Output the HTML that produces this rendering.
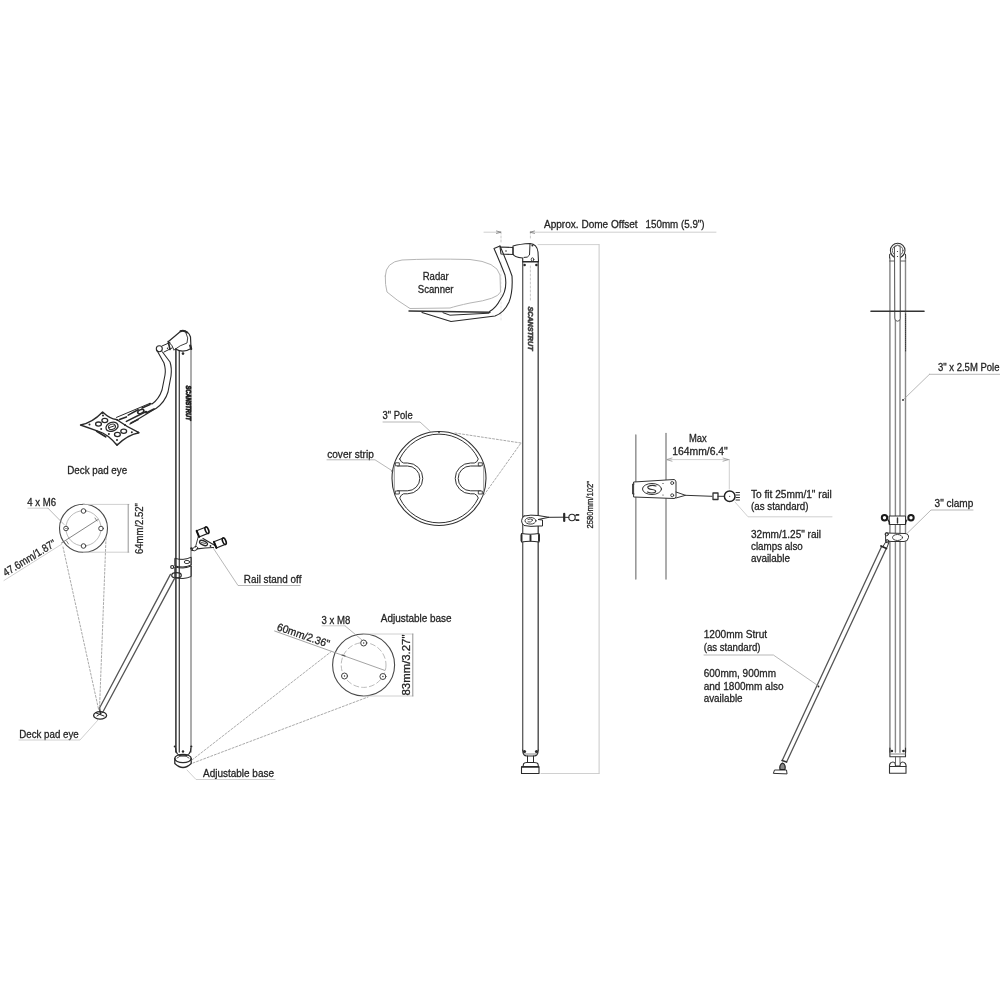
<!DOCTYPE html>
<html><head><meta charset="utf-8"><style>
html,body{margin:0;padding:0;background:#fff;}
svg{display:block;will-change:transform;}
text{font-family:"Liberation Sans",sans-serif;stroke:#222;stroke-width:0.28px;}
</style></head><body>
<svg width="1000" height="1000" viewBox="0 0 1000 1000" stroke-linecap="round" stroke-linejoin="round">
<rect width="1000" height="1000" fill="#fff"/>
<line x1="175.9" y1="349" x2="175.9" y2="752" stroke="#2e2e2e" stroke-width="1.5" />
<line x1="179.3" y1="351" x2="179.3" y2="752" stroke="#444" stroke-width="1.3" />
<line x1="191" y1="348" x2="191" y2="752" stroke="#8a8a8a" stroke-width="1.4" />
<path d="M175.6,748 Q175.6,756 183,756 Q190.9,756 190.9,748" stroke="#2a2a2a" stroke-width="1.1" fill="none" />
<circle cx="174.8" cy="746.5" r="1.1" stroke="#2a2a2a" stroke-width="0" fill="#2a2a2a" />
<circle cx="191.3" cy="746.5" r="1.1" stroke="#2a2a2a" stroke-width="0" fill="#2a2a2a" />
<circle cx="183" cy="751.5" r="1.2" stroke="#2a2a2a" stroke-width="0" fill="#2a2a2a" />
<ellipse cx="183" cy="758.5" rx="8.2" ry="4.2" stroke="#2a2a2a" stroke-width="1.3" fill="none" />
<path d="M174.8,758.5 L174.8,763.5 Q183,771.5 191.2,763.5 L191.2,758.5" stroke="#2a2a2a" stroke-width="1.3" fill="none" />
<path d="M177,758 Q183,753 189,758" stroke="#2a2a2a" stroke-width="0.8" fill="none" />
<path d="M168.5,341.5 L181,331 Q188,329.5 190.5,337 L191,348" stroke="#2a2a2a" stroke-width="1.2" fill="none" />
<path d="M175.6,349 Q183,353.5 191,348.5" stroke="#2a2a2a" stroke-width="1.2" fill="none" />
<path d="M168.5,341.5 Q173,346 173.8,349.5" stroke="#2a2a2a" stroke-width="1.0" fill="none" />
<path d="M174,350 Q180,345 187,343 Q189,338 186,333" stroke="#2a2a2a" stroke-width="0.9" fill="none" />
<path d="M162,346 L170,342.5 M164,352 L172,348" stroke="#2a2a2a" stroke-width="1.0" fill="none" />
<circle cx="159.3" cy="348.8" r="3.0" stroke="#2a2a2a" stroke-width="1.1" fill="none" />
<circle cx="183" cy="353.6" r="1.3" stroke="#2a2a2a" stroke-width="0" fill="#2a2a2a" />
<path d="M180.5,331.2 Q184,329.8 187,332.5" stroke="#2a2a2a" stroke-width="2.0" fill="none" />
<path d="M190.2,345.5 L191.2,349" stroke="#2a2a2a" stroke-width="2.2" fill="none" />
<path d="M168.2,341.5 L170,349.5" stroke="#2a2a2a" stroke-width="1.6" fill="none" />
<circle cx="167.5" cy="348.2" r="0.7" stroke="#2a2a2a" stroke-width="0" fill="#2a2a2a" />
<path d="M157,350.5 L164,363 Q166,370 165,375 L162,390 Q159,399 152,404 L149.8,403.4" stroke="#2a2a2a" stroke-width="1.1" fill="none" />
<path d="M162.5,352 L170,362 Q172,368 171,376 L168,392 Q165,402 156,408.5 L155.2,408.8" stroke="#2a2a2a" stroke-width="1.1" fill="none" />
<path d="M116.5,417.4 L149.8,403.4" stroke="#2a2a2a" stroke-width="1.0" fill="none" />
<path d="M130,424.1 L155.2,408.8" stroke="#2a2a2a" stroke-width="1.2" fill="none" />
<path d="M119.5,419.6 L126.4,416.9 M128.2,415.1 L138.1,409.7 M126.4,421.4 L146.2,411.5 M131,423 L138,419.5 M142,408 L150,404.5 M146,413 L154,409" stroke="#2a2a2a" stroke-width="1.6" fill="none" />
<ellipse cx="140.8" cy="411.5" rx="3.3" ry="1.8" stroke="#2a2a2a" stroke-width="1.6" fill="none" transform="rotate(-25 140.8 411.5)"/>
<path d="M80.5,425 Q92,423 102.6,412 Q110,419 116.5,419.5 Q127,427 139,432.7 Q127,435 117,445.3 Q108,434 98.5,431.3 Q89,428 80.5,425 Z" stroke="#2a2a2a" stroke-width="1.4" fill="#fff" />
<path d="M96.7,431.3 L105.7,436.7" stroke="#2a2a2a" stroke-width="1.8" fill="none" />
<ellipse cx="112" cy="426.8" rx="6.2" ry="4.4" stroke="#2a2a2a" stroke-width="1.3" fill="none" transform="rotate(-20 112 426.8)"/>
<ellipse cx="112" cy="426.8" rx="3.6" ry="2.6" stroke="#2a2a2a" stroke-width="1.0" fill="none" transform="rotate(-20 112 426.8)"/>
<path d="M109.5,427.5 L114.5,425.8" stroke="#2a2a2a" stroke-width="1.0" fill="none" />
<ellipse cx="104.8" cy="420.5" rx="2.9" ry="2.1" stroke="#2a2a2a" stroke-width="1.3" fill="none" />
<ellipse cx="98.5" cy="424.1" rx="2.9" ry="2.1" stroke="#2a2a2a" stroke-width="1.3" fill="none" />
<ellipse cx="123.7" cy="431.3" rx="2.9" ry="2.1" stroke="#2a2a2a" stroke-width="1.3" fill="none" />
<ellipse cx="117.4" cy="434.5" rx="2.9" ry="2.1" stroke="#2a2a2a" stroke-width="1.3" fill="none" />
<circle cx="89.5" cy="424.5" r="1.0" stroke="#2a2a2a" stroke-width="0" fill="#2a2a2a" />
<circle cx="103" cy="415.5" r="1.0" stroke="#2a2a2a" stroke-width="0" fill="#2a2a2a" />
<circle cx="131.8" cy="432.2" r="1.0" stroke="#2a2a2a" stroke-width="0" fill="#2a2a2a" />
<circle cx="117" cy="439.9" r="1.0" stroke="#2a2a2a" stroke-width="0" fill="#2a2a2a" />
<circle cx="101.2" cy="429" r="1.0" stroke="#2a2a2a" stroke-width="0" fill="#2a2a2a" />
<circle cx="108.9" cy="434" r="1.0" stroke="#2a2a2a" stroke-width="0" fill="#2a2a2a" />
<circle cx="117.4" cy="420" r="1.0" stroke="#2a2a2a" stroke-width="0" fill="#2a2a2a" />
<circle cx="125" cy="425" r="1.0" stroke="#2a2a2a" stroke-width="0" fill="#2a2a2a" />
<circle cx="81.5" cy="425" r="1.0" stroke="#2a2a2a" stroke-width="0" fill="#2a2a2a" />
<circle cx="102.6" cy="413" r="1.0" stroke="#2a2a2a" stroke-width="0" fill="#2a2a2a" />
<circle cx="138" cy="432.5" r="1.0" stroke="#2a2a2a" stroke-width="0" fill="#2a2a2a" />
<circle cx="117" cy="444.5" r="1.0" stroke="#2a2a2a" stroke-width="0" fill="#2a2a2a" />
<g transform="translate(188.6,403) rotate(90)"><text x="-17.5" y="2.3" font-size="7" font-weight="bold" font-style="italic" fill="#222" style="stroke-width:0.8px" textLength="35" lengthAdjust="spacingAndGlyphs">SCANSTRUT</text></g>
<path d="M175.2,558.4 Q183,561 191.2,557.2 L191.2,565 Q183,568.5 175.2,566 Z" stroke="#2a2a2a" stroke-width="1.0" fill="none" />
<path d="M175.2,567 Q183,569.5 191.2,566 L191.2,576.5 Q183,580 175.2,577.5 Z" stroke="#2a2a2a" stroke-width="1.0" fill="none" />
<ellipse cx="187" cy="562" rx="2.8" ry="1.6" stroke="#2a2a2a" stroke-width="0.9" fill="none" />
<ellipse cx="176.5" cy="575.2" rx="4.8" ry="2.6" stroke="#2a2a2a" stroke-width="1.2" fill="none" />
<circle cx="172.2" cy="567" r="1.5" stroke="#2a2a2a" stroke-width="1.2" fill="none" />
<path d="M192,550.5 Q193,546.5 196.5,546.5 Q199,547.5 197,549.5 Q195,551.5 192,550.5 Z" stroke="#2a2a2a" stroke-width="1.0" fill="#fff" />
<path d="M195.5,547 L198.3,536.5" stroke="#2a2a2a" stroke-width="0.9" fill="none" />
<path d="M203,538.5 L215,545.5" stroke="#2a2a2a" stroke-width="1.2" fill="none" />
<path d="M197,548.8 Q205,548 213.5,547.5" stroke="#2a2a2a" stroke-width="1.2" fill="none" />
<ellipse cx="203.5" cy="543" rx="4.2" ry="2.1" stroke="#2a2a2a" stroke-width="1.4" fill="none" transform="rotate(25 203.5 543)"/>
<path d="M201.5,542.5 L205.5,543.5" stroke="#2a2a2a" stroke-width="0.8" fill="none" />
<circle cx="210.5" cy="546" r="0.9" stroke="#2a2a2a" stroke-width="0" fill="#2a2a2a" />
<circle cx="191.5" cy="548.5" r="1.3" stroke="#2a2a2a" stroke-width="0" fill="#2a2a2a" />
<g transform="translate(202.5,532) rotate(-22)"><rect x="-5" y="-3.3" width="9.5" height="6.6" fill="#fff" stroke="#222" stroke-width="1.1"/><ellipse cx="4.8" cy="0" rx="1.6" ry="3.5" fill="#fff" stroke="#111" stroke-width="1.6"/><line x1="-5" y1="-3.3" x2="-5" y2="3.3" stroke="#111" stroke-width="2"/></g>
<g transform="translate(219.8,543) rotate(-22)"><rect x="-5" y="-3.3" width="9.5" height="6.6" fill="#fff" stroke="#222" stroke-width="1.1"/><ellipse cx="4.8" cy="0" rx="1.6" ry="3.5" fill="#fff" stroke="#111" stroke-width="1.6"/><line x1="-5" y1="-3.3" x2="-5" y2="3.3" stroke="#111" stroke-width="2"/></g>
<line x1="170.4" y1="574.4" x2="99" y2="709" stroke="#555" stroke-width="1.3" />
<line x1="174.6" y1="578.4" x2="103.4" y2="711" stroke="#555" stroke-width="1.3" />
<ellipse cx="100.1" cy="715.4" rx="6.5" ry="3.7" stroke="#2a2a2a" stroke-width="1.3" fill="none" />
<path d="M96,713 L104,716 M97,716 L103,712" stroke="#2a2a2a" stroke-width="1.0" fill="none" />
<path d="M99.5,708 L100.5,714" stroke="#2a2a2a" stroke-width="1.4" fill="none" />
<circle cx="83.5" cy="528.3" r="24" stroke="#4a4a4a" stroke-width="1.1" fill="none" />
<circle cx="83.5" cy="528.3" r="17.6" stroke="#aaa" stroke-width="0.8" fill="none" />
<circle cx="83.5" cy="511" r="2.3" stroke="#444" stroke-width="1.0" fill="#fff" />
<circle cx="101" cy="528.5" r="2.3" stroke="#444" stroke-width="1.0" fill="#fff" />
<circle cx="83.5" cy="546" r="2.3" stroke="#444" stroke-width="1.0" fill="#fff" />
<circle cx="66" cy="528.5" r="2.3" stroke="#444" stroke-width="1.0" fill="#fff" />
<circle cx="66" cy="528.5" r="0.6" stroke="#2a2a2a" stroke-width="0" fill="#2a2a2a" />
<line x1="61.5" y1="543" x2="98" y2="519.5" stroke="#666" stroke-width="0.8" />
<line x1="66.5" y1="541" x2="68.5" y2="544" stroke="#666" stroke-width="0.8" />
<line x1="95" y1="518" x2="97" y2="521" stroke="#666" stroke-width="0.8" />
<g transform="translate(29.3,557.8) rotate(-31.5)"><text x="-30.0" y="3.795" font-size="11" fill="#262626" textLength="60" lengthAdjust="spacingAndGlyphs">47.6mm/1.87&quot;</text></g>
<line x1="4" y1="580.5" x2="62" y2="544" stroke="#c4c4c4" stroke-width="0.8" />
<line x1="83.5" y1="504.4" x2="129" y2="504.4" stroke="#c4c4c4" stroke-width="0.8" />
<line x1="83.5" y1="552.2" x2="129" y2="552.2" stroke="#c4c4c4" stroke-width="0.8" />
<line x1="128.2" y1="504.4" x2="128.2" y2="552.2" stroke="#888" stroke-width="0.9" />
<g transform="translate(139.5,528.5) rotate(-90)"><text x="-25.5" y="3.6224999999999996" font-size="10.5" fill="#262626" textLength="51" lengthAdjust="spacingAndGlyphs">64mm/2.52&quot;</text></g>
<text x="27.2" y="506" font-size="10.3" fill="#262626" textLength="28.8" lengthAdjust="spacingAndGlyphs" >4 x M6</text>
<line x1="28" y1="508.2" x2="48" y2="508.2" stroke="#c4c4c4" stroke-width="0.8" />
<line x1="48" y1="508.2" x2="64" y2="524.5" stroke="#9a9a9a" stroke-width="0.7" />
<text x="67.2" y="474.3" font-size="10.3" fill="#262626" textLength="60" lengthAdjust="spacingAndGlyphs" >Deck pad eye</text>
<line x1="63" y1="547" x2="98.5" y2="709" stroke="#aaa" stroke-width="1.0" stroke-dasharray="2,1.8"/>
<line x1="106" y1="538" x2="99.5" y2="709" stroke="#aaa" stroke-width="1.0" stroke-dasharray="2,1.8"/>
<text x="19.2" y="737.5" font-size="10.3" fill="#262626" textLength="59.5" lengthAdjust="spacingAndGlyphs" >Deck pad eye</text>
<path d="M98,720 L80,740 L19,740" stroke="#c4c4c4" stroke-width="0.8" fill="none" />
<text x="243.8" y="583" font-size="10.3" fill="#262626" textLength="57.6" lengthAdjust="spacingAndGlyphs" >Rail stand off</text>
<path d="M213.5,548.5 L238,585.5 L300,585.5" stroke="#9a9a9a" stroke-width="0.7" fill="none" />
<text x="203" y="777" font-size="10.3" fill="#262626" textLength="71" lengthAdjust="spacingAndGlyphs" >Adjustable base</text>
<path d="M187,770 L196,779.5 L275,779.5" stroke="#c4c4c4" stroke-width="0.8" fill="none" />
<circle cx="363.6" cy="665" r="31" stroke="#4a4a4a" stroke-width="1.1" fill="none" />
<circle cx="363.6" cy="665" r="22.4" stroke="#aaa" stroke-width="0.8" fill="none" stroke-dasharray="5,3"/>
<circle cx="363.7" cy="643" r="3" stroke="#444" stroke-width="1.0" fill="#fff" />
<circle cx="363.7" cy="643" r="0.7" stroke="#2a2a2a" stroke-width="0" fill="#2a2a2a" />
<circle cx="344.5" cy="676" r="3" stroke="#444" stroke-width="1.0" fill="#fff" />
<circle cx="344.5" cy="676" r="0.7" stroke="#2a2a2a" stroke-width="0" fill="#2a2a2a" />
<circle cx="382.9" cy="676.5" r="3" stroke="#444" stroke-width="1.0" fill="#fff" />
<circle cx="382.9" cy="676.5" r="0.7" stroke="#2a2a2a" stroke-width="0" fill="#2a2a2a" />
<line x1="274.6" y1="631" x2="384.8" y2="670.4" stroke="#999" stroke-width="0.9" />
<line x1="342" y1="655" x2="345" y2="656" stroke="#555" stroke-width="1.2" />
<g transform="translate(303.5,635.3) rotate(19)"><text x="-27.5" y="3.726" font-size="10.8" fill="#262626" textLength="55" lengthAdjust="spacingAndGlyphs">60mm/2.36&quot;</text></g>
<text x="321.6" y="624" font-size="10.3" fill="#262626" textLength="28.8" lengthAdjust="spacingAndGlyphs" >3 x M8</text>
<line x1="322" y1="625.8" x2="345" y2="625.8" stroke="#c4c4c4" stroke-width="0.8" />
<line x1="345" y1="625.8" x2="362" y2="640" stroke="#9a9a9a" stroke-width="0.7" />
<text x="380.8" y="622" font-size="10.3" fill="#262626" textLength="70.8" lengthAdjust="spacingAndGlyphs" >Adjustable base</text>
<line x1="363.6" y1="634" x2="413" y2="634" stroke="#c4c4c4" stroke-width="0.8" />
<line x1="363.6" y1="696" x2="413" y2="696" stroke="#c4c4c4" stroke-width="0.8" />
<line x1="412.8" y1="634" x2="412.8" y2="696" stroke="#888" stroke-width="0.9" />
<g transform="translate(406.8,665) rotate(-90)"><text x="-30.5" y="3.6224999999999996" font-size="10.5" fill="#262626" textLength="61" lengthAdjust="spacingAndGlyphs">83mm/3.27&quot;</text></g>
<line x1="192" y1="760" x2="332" y2="651" stroke="#aaa" stroke-width="1.0" stroke-dasharray="2,1.8"/>
<line x1="193" y1="763" x2="368" y2="697" stroke="#aaa" stroke-width="1.0" stroke-dasharray="2,1.8"/>
<line x1="522.7" y1="261.5" x2="522.7" y2="750" stroke="#5a5a5a" stroke-width="1.3" />
<line x1="538.2" y1="261.5" x2="538.2" y2="750" stroke="#4a4a4a" stroke-width="1.4" />
<line x1="530.4" y1="266" x2="530.4" y2="300" stroke="#bbb" stroke-width="0.8" stroke-dasharray="2,2"/>
<line x1="530.4" y1="232" x2="530.4" y2="240" stroke="#bbb" stroke-width="0.8" stroke-dasharray="2,2"/>
<line x1="501" y1="232" x2="501" y2="242" stroke="#bbb" stroke-width="0.8" stroke-dasharray="2,2"/>
<line x1="501" y1="262" x2="501" y2="320" stroke="#ddd" stroke-width="0.8" stroke-dasharray="2,2"/>
<path d="M513,246 Q520,244 530,243.5 Q537,244 538,252 L538.5,261.5 L522.7,261.5 L522.7,258 Q514,257 513,254 Z" stroke="#2a2a2a" stroke-width="1.1" fill="#fff" />
<path d="M530,244 L529.5,255 Q528,258 524,257.5" stroke="#2a2a2a" stroke-width="1.0" fill="none" />
<path d="M500,247 L513,247.5 L513,254.5 L501,254 Z" stroke="#2a2a2a" stroke-width="1.1" fill="none" />
<circle cx="506" cy="251" r="0.8" stroke="#2a2a2a" stroke-width="0" fill="#2a2a2a" />
<circle cx="532.4" cy="245.5" r="1.0" stroke="#2a2a2a" stroke-width="0" fill="#2a2a2a" />
<ellipse cx="532.5" cy="259.5" rx="1.3" ry="1.7" stroke="#2a2a2a" stroke-width="0.9" fill="none" />
<circle cx="524.6" cy="265" r="1.3" stroke="#2a2a2a" stroke-width="0" fill="#2a2a2a" />
<circle cx="536.4" cy="265" r="1.3" stroke="#2a2a2a" stroke-width="0" fill="#2a2a2a" />
<line x1="522.7" y1="262" x2="538.2" y2="262" stroke="#2a2a2a" stroke-width="1.0" />
<g transform="translate(530,328.5) rotate(90)"><text x="-22" y="2.5" font-size="7.5" font-weight="bold" font-style="italic" fill="#333" style="stroke:#444;stroke-width:0.6px" textLength="44" lengthAdjust="spacingAndGlyphs">SCANSTRUT</text></g>
<path d="M494,248.5 L500,246 M494,248.5 Q500,262 505,275 Q508,290 500,300 Q496,308 489.5,311.5" stroke="#2a2a2a" stroke-width="1.1" fill="none" />
<path d="M500,246 Q507,262 512,276 Q513,292 509,302 Q504,313 495,316 L451,321.5 L422,312.5" stroke="#2a2a2a" stroke-width="1.1" fill="none" />
<path d="M443,312.7 L450,315.2 L489,313.2" stroke="#2a2a2a" stroke-width="1.0" fill="none" />
<path d="M385.3,276 Q385.5,262 402,260 Q430,258.5 470,259.5 Q497,262 500,275 L500.5,292 Q498,299 470,303 Q456,306 450,308 L410,308.5 Q396,300 387,292 Q385,285 385.3,276 Z" stroke="#b5b5b5" stroke-width="1.0" fill="none" />
<line x1="409" y1="311" x2="490" y2="312.2" stroke="#333" stroke-width="1.4" />
<text x="422.7" y="279.7" font-size="10.3" fill="#262626" textLength="26" lengthAdjust="spacingAndGlyphs" >Radar</text>
<text x="417.8" y="292.8" font-size="10.3" fill="#262626" textLength="35.7" lengthAdjust="spacingAndGlyphs" >Scanner</text>
<line x1="484" y1="232.2" x2="501" y2="232.2" stroke="#c4c4c4" stroke-width="0.8" />
<line x1="530" y1="232.2" x2="716" y2="232.2" stroke="#c4c4c4" stroke-width="0.8" />
<path d="M496.5,231 L501,232.2 L496.5,233.4" stroke="#777" stroke-width="0.8" fill="none" />
<path d="M534.5,231 L530,232.2 L534.5,233.4" stroke="#777" stroke-width="0.8" fill="none" />
<text x="544" y="227.6" font-size="10.3" fill="#262626" textLength="93.6" lengthAdjust="spacingAndGlyphs" >Approx. Dome Offset</text>
<text x="645.6" y="227.6" font-size="10.3" fill="#262626" textLength="59" lengthAdjust="spacingAndGlyphs" >150mm (5.9&quot;)</text>
<line x1="538" y1="244.6" x2="599" y2="244.6" stroke="#c4c4c4" stroke-width="0.8" />
<line x1="599.1" y1="244.6" x2="599.1" y2="773.5" stroke="#c8c8c8" stroke-width="1.0" />
<line x1="541" y1="773.5" x2="599" y2="773.5" stroke="#c4c4c4" stroke-width="0.8" />
<g transform="translate(590,504.8) rotate(-90)"><text x="-23.8" y="3.1049999999999995" font-size="9" fill="#262626" textLength="47.6" lengthAdjust="spacingAndGlyphs">2580mm/102&quot;</text></g>
<path d="M524,516 Q531,514.5 538,515.5 L549,517.3 L538,519.5 L542.5,520 L542.5,526 L538,526 Q531,527 524,525.5 Q519,521 524,516 Z" stroke="#2a2a2a" stroke-width="1.0" fill="#fff" />
<ellipse cx="530.5" cy="520.8" rx="5.5" ry="3.3" stroke="#2a2a2a" stroke-width="0.9" fill="none" />
<path d="M528,519.5 Q530.5,518 533,520 Q530.5,523 528,522" stroke="#2a2a2a" stroke-width="0.8" fill="none" />
<line x1="549" y1="517.3" x2="564" y2="517.2" stroke="#2a2a2a" stroke-width="1.0" />
<path d="M564.2,513.8 L564.2,521" stroke="#2a2a2a" stroke-width="2.2" fill="none" />
<line x1="564" y1="517.3" x2="568.8" y2="517.4" stroke="#2a2a2a" stroke-width="1.0" />
<circle cx="572" cy="517.5" r="3.2" stroke="#2a2a2a" stroke-width="1.1" fill="none" />
<path d="M576.5,514.8 L578.5,514.8 M576.5,520.2 L578.5,520.2" stroke="#2a2a2a" stroke-width="1.8" fill="none" />
<path d="M575.3,516 L576.5,514.8 M575.3,519 L576.5,520.2" stroke="#2a2a2a" stroke-width="0.9" fill="none" />
<path d="M521.5,533.5 Q530,535 539,533.5 L539,542 Q530,540.5 521.5,542 Z" stroke="#2a2a2a" stroke-width="1.1" fill="#fff" />
<path d="M521.5,535 L521.5,540.5 M539,535 L539,540.5 M530.5,535.5 L530.5,540.5" stroke="#2a2a2a" stroke-width="1.9" fill="none" />
<path d="M522.7,750 Q522.7,756 527,756 L534,756 Q538.2,756 538.2,750" stroke="#2a2a2a" stroke-width="1.1" fill="none" />
<circle cx="524.5" cy="751.5" r="1.6" stroke="#2a2a2a" stroke-width="0" fill="#2a2a2a" />
<circle cx="536.5" cy="751.5" r="1.6" stroke="#2a2a2a" stroke-width="0" fill="#2a2a2a" />
<line x1="524" y1="754" x2="537" y2="754" stroke="#888" stroke-width="1.0" />
<path d="M527.5,756 L527.5,762 M533.5,756 L533.5,762" stroke="#2a2a2a" stroke-width="1.0" fill="none" />
<path d="M523,767 L523.5,764 Q524,762.5 527,762.5 L534,762.5 Q537.5,762.5 538,764 L538.5,767" stroke="#2a2a2a" stroke-width="1.1" fill="none" />
<path d="M521.5,767 L539,767 L539,773.5 L521.5,773.5 Z" stroke="#2a2a2a" stroke-width="1.1" fill="none" />
<line x1="521.8" y1="766.8" x2="538.7" y2="766.8" stroke="#2a2a2a" stroke-width="1.5" />
<circle cx="439" cy="478.5" r="47" stroke="#333" stroke-width="1.1" fill="none" />
<path d="M399.7,459 A43.5,43.5 0 0 1 478.3,459 Q477,462.6 474.4,463 L470.6,463 A15.4,15.4 0 0 0 470.6,493.8 L474.4,493.8 Q477,494.5 478.3,498 A43.5,43.5 0 0 1 399.7,498 Q401,494.5 403.6,493.8 L407.4,493.8 A15.4,15.4 0 0 0 407.4,463 L403.6,463 Q401,462.6 399.7,459 Z" stroke="#333" stroke-width="1.0" fill="none" />
<path d="M397.5,466 L407.4,466 A12.4,12.4 0 0 1 407.4,490.8 L397.5,490.8" stroke="#333" stroke-width="1.0" fill="none" />
<path d="M480.5,466 L470.6,466 A12.4,12.4 0 0 0 470.6,490.8 L480.5,490.8" stroke="#333" stroke-width="1.0" fill="none" />
<line x1="394.3" y1="466" x2="394.3" y2="491" stroke="#999" stroke-width="1.0" />
<line x1="483.7" y1="466" x2="483.7" y2="491" stroke="#999" stroke-width="1.0" />
<rect x="395.7" y="462.8" width="3.6" height="3" fill="#fff" stroke="#333" stroke-width="0.9"/>
<rect x="395.7" y="491.0" width="3.6" height="3" fill="#fff" stroke="#333" stroke-width="0.9"/>
<rect x="478.7" y="462.8" width="3.6" height="3" fill="#fff" stroke="#333" stroke-width="0.9"/>
<rect x="478.7" y="491.0" width="3.6" height="3" fill="#fff" stroke="#333" stroke-width="0.9"/>
<circle cx="439" cy="432" r="0.9" stroke="#2a2a2a" stroke-width="0" fill="#2a2a2a" />
<circle cx="392.3" cy="471" r="0.9" stroke="#2a2a2a" stroke-width="0" fill="#2a2a2a" />
<text x="382.6" y="419.4" font-size="10.3" fill="#262626" textLength="30.1" lengthAdjust="spacingAndGlyphs" >3&quot; Pole</text>
<path d="M383,422 L420,422 L432,433" stroke="#9a9a9a" stroke-width="0.7" fill="none" />
<text x="327.2" y="457.6" font-size="10.3" fill="#262626" textLength="46.6" lengthAdjust="spacingAndGlyphs" >cover strip</text>
<path d="M327,459.8 L375,459.8 L392.5,471" stroke="#9a9a9a" stroke-width="0.7" fill="none" />
<line x1="455" y1="433" x2="521" y2="443" stroke="#aaa" stroke-width="1.0" stroke-dasharray="2,1.8"/>
<line x1="484" y1="495" x2="521" y2="443" stroke="#aaa" stroke-width="1.0" stroke-dasharray="2,1.8"/>
<line x1="635.8" y1="435" x2="635.8" y2="579" stroke="#999" stroke-width="1.6" />
<line x1="666" y1="433.5" x2="666" y2="579" stroke="#999" stroke-width="1.6" />
<text x="689" y="442.1" font-size="10.3" fill="#262626" textLength="17.8" lengthAdjust="spacingAndGlyphs" >Max</text>
<text x="672.2" y="454.7" font-size="10.3" fill="#262626" textLength="55.6" lengthAdjust="spacingAndGlyphs" >164mm/6.4&quot;</text>
<line x1="666" y1="459.6" x2="729.3" y2="459.6" stroke="#c4c4c4" stroke-width="0.8" />
<line x1="729.3" y1="459.6" x2="729.3" y2="489" stroke="#c4c4c4" stroke-width="0.8" />
<path d="M672,458 L666.5,459.6 L672,461.2" stroke="#888" stroke-width="0.7" fill="none" />
<path d="M723,458 L728.5,459.6 L723,461.2" stroke="#888" stroke-width="0.7" fill="none" />
<path d="M634,482 L674,479.5 Q676,480 676,482 L676,496.5 Q676,498.5 674,498.5 L634,497 Z" stroke="#333" stroke-width="1.0" fill="#fff" />
<path d="M634,484 L632.5,484 L632.5,494 L634,494" stroke="#333" stroke-width="0.9" fill="none" />
<ellipse cx="652" cy="489" rx="9.5" ry="5.5" stroke="#333" stroke-width="1.0" fill="none" />
<path d="M656,486 Q652,484.5 648,486.5 Q647,489 652,489.5 Q656.5,490 655.5,492 Q652,494 647.5,492" stroke="#333" stroke-width="1.2" fill="none" />
<circle cx="672.2" cy="483" r="1.5" stroke="#333" stroke-width="0.9" fill="none" />
<circle cx="672.2" cy="495.3" r="1.5" stroke="#333" stroke-width="0.9" fill="none" />
<circle cx="663" cy="483.5" r="0.6" stroke="#2a2a2a" stroke-width="0" fill="#2a2a2a" />
<circle cx="663" cy="495" r="0.6" stroke="#2a2a2a" stroke-width="0" fill="#2a2a2a" />
<path d="M676,492 L685.5,495.3 L676,498" stroke="#333" stroke-width="1.0" fill="none" />
<line x1="685.5" y1="495.3" x2="712" y2="496.3" stroke="#333" stroke-width="1.0" />
<path d="M713,493 L718,493 L718,499.5 L713,499.5 Z" stroke="#333" stroke-width="1.3" fill="none" />
<line x1="718" y1="496.3" x2="724" y2="496.3" stroke="#333" stroke-width="1.0" />
<circle cx="729.7" cy="496.3" r="5.3" stroke="#222" stroke-width="1.5" fill="none" />
<circle cx="729.7" cy="496.3" r="0.6" stroke="#2a2a2a" stroke-width="0" fill="#2a2a2a" />
<path d="M736,492.5 L739.5,492.5 M736,495 L739.5,495 M736,497.5 L739.5,497.5 M736,500 L739.5,500" stroke="#333" stroke-width="1.0" fill="none" />
<text x="751" y="498.3" font-size="10.3" fill="#262626" textLength="80.8" lengthAdjust="spacingAndGlyphs" >To fit 25mm/1&quot; rail</text>
<text x="751" y="510" font-size="10.3" fill="#262626" textLength="57.5" lengthAdjust="spacingAndGlyphs" >(as standard)</text>
<path d="M735,502 L748,516.8 L832,516.8" stroke="#c4c4c4" stroke-width="0.8" fill="none" />
<text x="751" y="537.5" font-size="10.3" fill="#262626" textLength="70" lengthAdjust="spacingAndGlyphs" >32mm/1.25&quot; rail</text>
<text x="751" y="549.5" font-size="10.3" fill="#262626" textLength="51.8" lengthAdjust="spacingAndGlyphs" >clamps also</text>
<text x="751" y="562" font-size="10.3" fill="#262626" textLength="39" lengthAdjust="spacingAndGlyphs" >available</text>
<line x1="889.9" y1="258" x2="889.9" y2="752" stroke="#999" stroke-width="1.7" />
<line x1="895.4" y1="258" x2="895.4" y2="752" stroke="#888" stroke-width="1.4" />
<line x1="900" y1="258" x2="900" y2="752" stroke="#a0a0a0" stroke-width="1.8" />
<line x1="905.5" y1="258" x2="905.5" y2="752" stroke="#888" stroke-width="1.4" />
<circle cx="897.7" cy="250.5" r="7.3" stroke="#333" stroke-width="1.1" fill="none" />
<circle cx="897.7" cy="250.5" r="5.3" stroke="#555" stroke-width="0.9" fill="none" />
<path d="M889.6,258 L889.6,255 Q890,252 892,255.5 L894.8,258 M905.6,258 L905.6,255 Q905,252 903,255.5 L900.2,258" stroke="#333" stroke-width="1.0" fill="none" />
<line x1="889.6" y1="261" x2="894.8" y2="261" stroke="#555" stroke-width="0.9" />
<line x1="900.2" y1="261" x2="905.6" y2="261" stroke="#555" stroke-width="0.9" />
<path d="M894.8,246.5 Q897.5,244 900.2,246.5 L900.2,318.5 A2.7,2.7 0 0 1 894.8,318.5 Z" stroke="#555" stroke-width="1.0" fill="#fff" />
<circle cx="897.5" cy="251.5" r="0.6" stroke="#2a2a2a" stroke-width="0" fill="#2a2a2a" />
<circle cx="897.5" cy="256.5" r="0.6" stroke="#2a2a2a" stroke-width="0" fill="#2a2a2a" />
<line x1="871" y1="311.2" x2="924" y2="311.2" stroke="#333" stroke-width="1.6" />
<line x1="905.6" y1="314" x2="905.6" y2="351" stroke="#333" stroke-width="1.0" stroke-dasharray="1,1"/>
<text x="938" y="371.3" font-size="10.3" fill="#262626" textLength="61.5" lengthAdjust="spacingAndGlyphs" >3&quot; x 2.5M Pole</text>
<path d="M929.5,374.3 L1000,374.3 M929.5,374.3 L903,400" stroke="#9a9a9a" stroke-width="0.7" fill="none" />
<circle cx="903" cy="400" r="0.9" stroke="#2a2a2a" stroke-width="0" fill="#2a2a2a" />
<path d="M889.5,516 L905.5,516 L905.5,524.5 L889.5,524.5 Z" stroke="#333" stroke-width="1.0" fill="#fff" />
<line x1="897.5" y1="518" x2="897.5" y2="523" stroke="#333" stroke-width="1.4" />
<circle cx="884.5" cy="517.8" r="2.7" stroke="#1a1a1a" stroke-width="2.0" fill="none" />
<circle cx="911" cy="517.8" r="2.7" stroke="#1a1a1a" stroke-width="2.0" fill="none" />
<path d="M888,520 Q890,522 889.5,524 M907,520 Q905.5,522 905.5,524" stroke="#222" stroke-width="1.2" fill="none" />
<path d="M886,533 L905,533.5 Q909,534 908.5,537.5 Q908,541.5 904,541.5 L892,541.5 L886,541 Z" stroke="#333" stroke-width="1.0" fill="#fff" />
<ellipse cx="897.5" cy="537.5" rx="5" ry="3" stroke="#333" stroke-width="0.9" fill="none" />
<circle cx="886.7" cy="534.2" r="1.6" stroke="#333" stroke-width="1.0" fill="none" />
<circle cx="887.2" cy="541.2" r="1.6" stroke="#333" stroke-width="1.0" fill="none" />
<path d="M907,533.5 L931,510 L973,510" stroke="#9a9a9a" stroke-width="0.7" fill="none" />
<text x="934.6" y="507.2" font-size="10.3" fill="#262626" textLength="38.7" lengthAdjust="spacingAndGlyphs" >3&quot; clamp</text>
<line x1="881.6" y1="546.4" x2="782.2" y2="760.5" stroke="#555" stroke-width="1.3" />
<line x1="886.4" y1="548.2" x2="786.6" y2="762" stroke="#555" stroke-width="1.3" />
<line x1="881" y1="546" x2="886.5" y2="548.5" stroke="#222" stroke-width="1.8" />
<path d="M883,546.5 L886,541.5 M887,547.5 L889,542" stroke="#333" stroke-width="1.0" fill="none" />
<path d="M773.5,773 L774.5,770 L786.5,770 L787,773.5 Z" stroke="#333" stroke-width="1.0" fill="#fff" />
<path d="M782,760.5 L786.6,762" stroke="#333" stroke-width="1.4" fill="none" />
<path d="M780,769.5 Q779,765 782.5,763 Q786,764.5 785,769.5 Z" stroke="#222" stroke-width="1.2" fill="#888" />
<path d="M889.9,748 L889.9,756.8 L905.5,756.8 L905.5,748" stroke="#333" stroke-width="1.1" fill="none" />
<circle cx="891.9" cy="751" r="1.3" stroke="#2a2a2a" stroke-width="0" fill="#2a2a2a" />
<circle cx="903.5" cy="751" r="1.3" stroke="#2a2a2a" stroke-width="0" fill="#2a2a2a" />
<line x1="889.9" y1="754" x2="905.5" y2="754" stroke="#777" stroke-width="0.9" />
<path d="M895.5,757 L895.5,763 M900,757 L900,763" stroke="#555" stroke-width="0.9" fill="none" />
<path d="M889.5,773.3 L889.5,765 Q890,762 893,762 Q895.5,762 895.5,766 L900,766 Q900,762 902.5,762 Q905.5,762 906,765 L906,773.3 Z" stroke="#333" stroke-width="1.1" fill="#fff" />
<line x1="889.5" y1="766.5" x2="906" y2="766.5" stroke="#333" stroke-width="1.0" />
<text x="703.7" y="637.8" font-size="10.3" fill="#262626" textLength="63.4" lengthAdjust="spacingAndGlyphs" >1200mm Strut</text>
<text x="703.7" y="650.5" font-size="10.3" fill="#262626" textLength="56.8" lengthAdjust="spacingAndGlyphs" >(as standard)</text>
<path d="M704,655 L773.4,655 L818.2,685.8" stroke="#9a9a9a" stroke-width="0.7" fill="none" />
<circle cx="818.5" cy="686.5" r="0.9" stroke="#2a2a2a" stroke-width="0" fill="#2a2a2a" />
<text x="703.7" y="676.7" font-size="10.3" fill="#262626" textLength="72.3" lengthAdjust="spacingAndGlyphs" >600mm, 900mm</text>
<text x="703.7" y="689.6" font-size="10.3" fill="#262626" textLength="79.8" lengthAdjust="spacingAndGlyphs" >and 1800mm also</text>
<text x="703.7" y="701.9" font-size="10.3" fill="#262626" textLength="38.9" lengthAdjust="spacingAndGlyphs" >available</text>
</svg></body></html>
